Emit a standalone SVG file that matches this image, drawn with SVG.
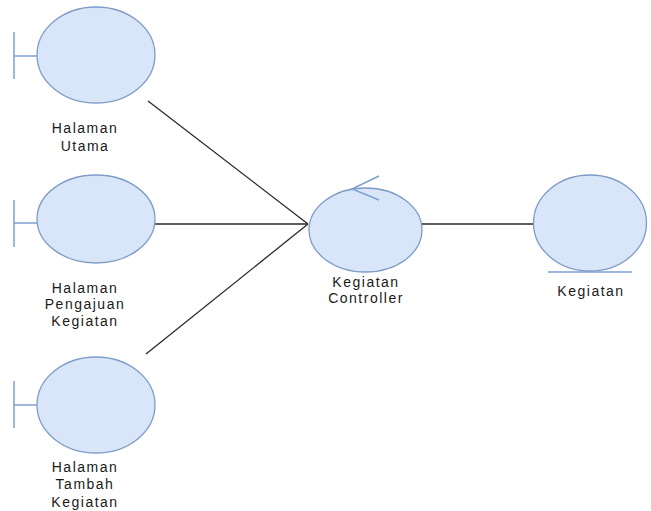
<svg xmlns="http://www.w3.org/2000/svg" width="651" height="511" viewBox="0 0 651 511">
<style>
.node ellipse{fill:#d9e6fa;stroke:#7f9cc6;stroke-width:1.3}
.deco{stroke:#7f9fd0;stroke-width:1.5;fill:none}
.lbl{font-family:"Liberation Sans",Arial,sans-serif;font-size:14px;fill:#1a1a1a;text-anchor:middle;letter-spacing:1.5px}
.conn line{stroke:#2a2a2a;stroke-width:1.3}
</style>
<rect width="651" height="511" fill="#ffffff"/>
<g id="connectors" class="conn">
<line x1="148" y1="101" x2="308" y2="224"/>
<line x1="155" y1="224" x2="308" y2="224"/>
<line x1="146" y1="354" x2="308" y2="224"/>
<line x1="422" y1="224" x2="534" y2="224"/>
</g>
<g id="halaman-utama" class="node">
<line class="deco" x1="14" y1="32" x2="14" y2="79"/>
<line class="deco" x1="14" y1="56" x2="37" y2="56"/>
<ellipse cx="96" cy="55" rx="59" ry="48"/>
<text class="lbl" x="85" y="133">Halaman</text>
<text class="lbl" x="85" y="151">Utama</text>
</g>
<g id="halaman-pengajuan" class="node">
<line class="deco" x1="14" y1="200" x2="14" y2="247"/>
<line class="deco" x1="14" y1="223" x2="37" y2="223"/>
<ellipse cx="96" cy="219" rx="59" ry="44"/>
<text class="lbl" x="85" y="293">Halaman</text>
<text class="lbl" x="85" y="309">Pengajuan</text>
<text class="lbl" x="85" y="326">Kegiatan</text>
</g>
<g id="halaman-tambah" class="node">
<line class="deco" x1="14" y1="381" x2="14" y2="428"/>
<line class="deco" x1="14" y1="405" x2="37" y2="405"/>
<ellipse cx="96" cy="405" rx="59" ry="48"/>
<text class="lbl" x="85" y="472">Halaman</text>
<text class="lbl" x="85" y="489">Tambah</text>
<text class="lbl" x="85" y="507">Kegiatan</text>
</g>
<g id="kegiatan-controller" class="node">
<ellipse cx="365.5" cy="230" rx="56.5" ry="42"/>
<polyline class="deco" points="379,176 352,189 379,200"/>
<text class="lbl" x="366" y="287">Kegiatan</text>
<text class="lbl" x="366" y="303">Controller</text>
</g>
<g id="kegiatan" class="node">
<ellipse cx="590" cy="223" rx="56.5" ry="48"/>
<line class="deco" x1="548" y1="272" x2="632" y2="272"/>
<text class="lbl" x="591" y="296">Kegiatan</text>
</g>
</svg>
